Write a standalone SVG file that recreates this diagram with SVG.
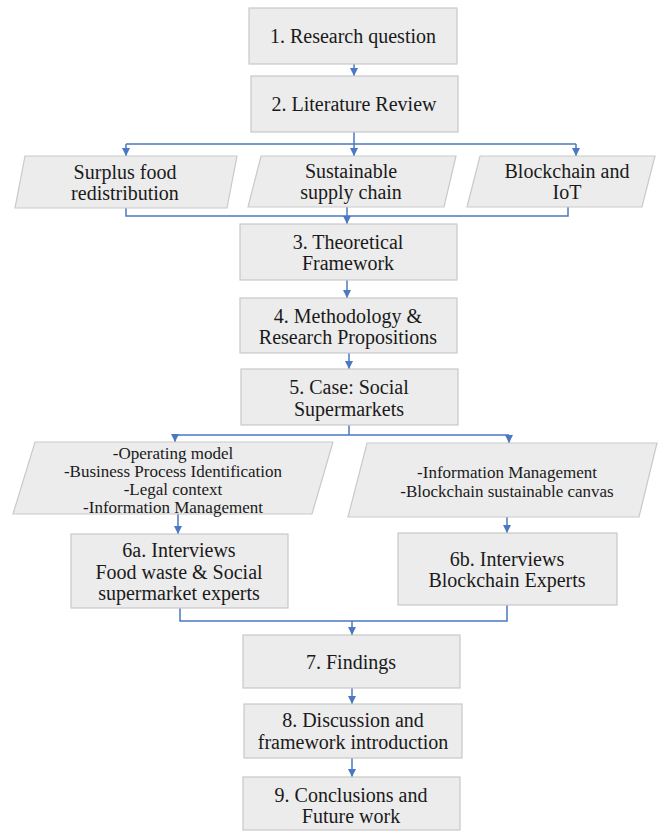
<svg xmlns="http://www.w3.org/2000/svg" width="658" height="831" viewBox="0 0 658 831">
  <style>
    .box { fill: #ececec; stroke: #c9c9c9; stroke-width: 1.2; }
    .t { font-family: "Liberation Serif", "Times New Roman", serif; font-size: 20px; fill: #1a1a1a; text-anchor: middle; }
    .s { font-family: "Liberation Serif", "Times New Roman", serif; font-size: 17px; fill: #1a1a1a; text-anchor: middle; }
    .ln { fill: none; stroke: #4a78c2; stroke-width: 1.5; }
    .ar { fill: none; stroke: #4a78c2; stroke-width: 1.5; marker-end: url(#head); }
  </style>
  <defs>
    <marker id="head" viewBox="0 0 10 10" refX="10" refY="5" markerWidth="8" markerHeight="8" markerUnits="userSpaceOnUse" orient="auto">
      <path d="M0,0 L10,5 L0,10 Z" fill="#4a78c2"/>
    </marker>
  </defs>
  <rect width="658" height="831" fill="#ffffff"/>

  <g id="connectors">
    <!-- 1 to 2 -->
    <path class="ar" d="M354,64 V76"/>
    <!-- 2 to the three review topics -->
    <path class="ln" d="M354,132 V144 M126,144 H576"/>
    <path class="ar" d="M126,144 V156"/>
    <path class="ar" d="M354,144 V156"/>
    <path class="ar" d="M576,144 V156"/>
    <!-- topics to 3 -->
    <path class="ln" d="M126,208 V216 H568 V207"/>
    <path class="ar" d="M347,193 V224"/>
    <!-- 3 to 4 to 5 -->
    <path class="ar" d="M347,280 V298"/>
    <path class="ar" d="M349,353 V369"/>
    <!-- 5 to the two case branches -->
    <path class="ln" d="M349,425 V435 M175,435 H509"/>
    <path class="ar" d="M175,435 V442"/>
    <path class="ar" d="M509,435 V443"/>
    <!-- branches to interviews -->
    <path class="ar" d="M178,514 V534"/>
    <path class="ar" d="M507,517 V533"/>
    <!-- interviews to 7 -->
    <path class="ln" d="M180,608 V621 H507 V605"/>
    <path class="ar" d="M352,621 V635"/>
    <!-- 7 to 8 to 9 -->
    <path class="ar" d="M352,688 V704"/>
    <path class="ar" d="M352,740 V777"/>
  </g>

  <g id="n1">
    <rect class="box" x="249" y="8" width="208" height="56"/>
    <text class="t" x="353" y="43">1. Research question</text>
  </g>
  <g id="n2">
    <rect class="box" x="251" y="76" width="207" height="56"/>
    <text class="t" x="354" y="111">2. Literature Review</text>
  </g>
  <g id="n2a">
    <polygon class="box" points="25,156 237,156 227,208 15,208"/>
    <text class="t" x="125" y="179">Surplus food</text>
    <text class="t" x="125" y="200">redistribution</text>
  </g>
  <g id="n2b">
    <polygon class="box" points="261,156 456,156 444,207 248,207"/>
    <text class="t" x="351" y="178">Sustainable</text>
    <text class="t" x="351" y="199">supply chain</text>
  </g>
  <g id="n2c">
    <polygon class="box" points="480,156 655,156 642,207 467,207"/>
    <text class="t" x="567" y="178">Blockchain and</text>
    <text class="t" x="567" y="199">IoT</text>
  </g>
  <g id="n3">
    <rect class="box" x="240" y="224" width="217" height="56"/>
    <text class="t" x="348" y="249">3. Theoretical</text>
    <text class="t" x="348" y="270">Framework</text>
  </g>
  <g id="n4">
    <rect class="box" x="240" y="298" width="217" height="55"/>
    <text class="t" x="348" y="323">4. Methodology &amp;</text>
    <text class="t" x="348" y="344">Research Propositions</text>
  </g>
  <g id="n5">
    <rect class="box" x="241" y="369" width="217" height="56"/>
    <text class="t" x="349" y="394">5. Case: Social</text>
    <text class="t" x="349" y="416">Supermarkets</text>
  </g>
  <g id="n5a">
    <polygon class="box" points="35,442 333,442 312,514 13,514"/>
    <text class="s" x="173" y="459">-Operating model</text>
    <text class="s" x="173" y="477">-Business Process Identification</text>
    <text class="s" x="173" y="495">-Legal context</text>
    <text class="s" x="173" y="513">-Information Management</text>
  </g>
  <g id="n5b">
    <polygon class="box" points="367,443 657,443 639,517 348,517"/>
    <text class="s" x="507" y="478">-Information Management</text>
    <text class="s" x="507" y="497">-Blockchain sustainable canvas</text>
  </g>
  <g id="n6a">
    <rect class="box" x="71" y="534" width="217" height="74"/>
    <text class="t" x="179" y="557">6a. Interviews</text>
    <text class="t" x="179" y="579">Food waste &amp; Social</text>
    <text class="t" x="179" y="600">supermarket experts</text>
  </g>
  <g id="n6b">
    <rect class="box" x="398" y="533" width="219" height="72"/>
    <text class="t" x="507" y="566">6b. Interviews</text>
    <text class="t" x="507" y="587">Blockchain Experts</text>
  </g>
  <g id="n7">
    <rect class="box" x="243" y="635" width="217" height="53"/>
    <text class="t" x="351" y="669">7. Findings</text>
  </g>
  <g id="n8">
    <rect class="box" x="244" y="704" width="218" height="54"/>
    <text class="t" x="353" y="727">8. Discussion and</text>
    <text class="t" x="353" y="749">framework introduction</text>
  </g>
  <g id="n9">
    <rect class="box" x="243" y="777" width="217" height="53"/>
    <text class="t" x="351" y="802">9. Conclusions and</text>
    <text class="t" x="351" y="823">Future work</text>
  </g>
</svg>
